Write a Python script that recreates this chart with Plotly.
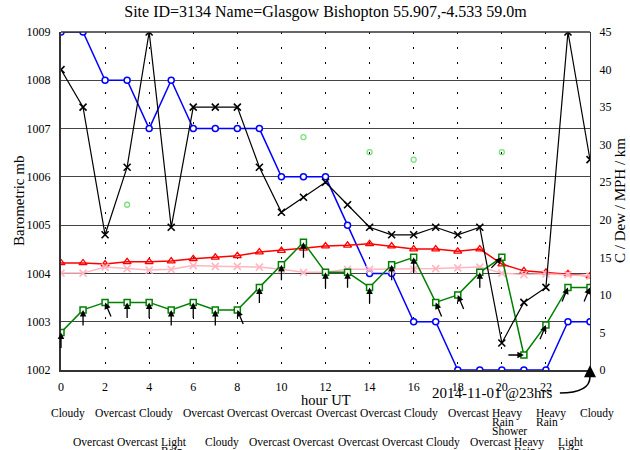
import math
import plotly.graph_objects as go

# ---------------- data ----------------
hours = list(range(25))
x_tick_vals = [0, 2, 4, 6, 8, 10, 12, 14, 16, 18, 20, 22]
x_tick_text = ["0", "2", "4", "6", "8", "10", "12", "14", "16", "18", "20", "22"]

pressure_mb = [1009, 1009, 1008, 1008, 1007, 1008, 1007, 1007, 1007, 1007, 1006, 1006, 1006,
               1005, 1004, 1004, 1003, 1003, 1002, 1002, 1002, 1002, 1002, 1003, 1003]
visibility_km = [40, 35, 18, 27, 45, 19, 35, 35, 35, 27, 21, 23, 25, 22, 19, 18, 18, 19, 18, 19,
                 3.6, 9, 11, 45, 28]
temperature_c = [14.25, 14.25, 14.1, 14.4, 14.4, 14.5, 14.8, 15.0, 15.2, 15.7, 15.9, 16.2, 16.5,
                 16.6, 16.8, 16.5, 16.1, 16.1, 15.8, 16.1, 14.1, 13.2, 13.0, 12.8, 12.5]
dewpoint_c = [12.9, 12.9, 13.7, 13.5, 13.3, 13.4, 13.9, 13.8, 13.8, 13.7, 13.4, 13.0, 13.0,
              13.4, 13.4, 13.4, 13.4, 13.5, 13.6, 13.7, 12.9, 12.7, 12.8, 12.7, 12.5]
wind_mph = [5, 8, 9, 9, 9, 8, 9, 8, 8, 11, 14, 17, 13, 13, 11, 14, 15, 9, 10, 13, 15, 2, 6, 11, 11]
gust_mph = [None, None, None, 22, None, None, None, None, None, None, None, 31, None,
            None, 29, None, 28, None, None, None, 29, None, None, None, None]
wind_from_deg = [180, 180, 157.5, 180, 180, 180, 180, 180, 157.5, 180, 180, 180, 180,
                 180, 180, 180, 180, 157.5, 157.5, 180, 225, 270, 202.5, 202.5, 202.5]
weather = ["Cloudy", "Overcast", "Overcast", "Overcast", "Cloudy", "Light Rain", "Overcast",
           "Cloudy", "Overcast", "Overcast", "Overcast", "Overcast", "Overcast", "Overcast",
           "Overcast", "Overcast", "Cloudy", "Cloudy", "Overcast", "Overcast",
           "Heavy Rain Shower", "Heavy Rain", "Heavy Rain", "Light Rain", "Cloudy"]

title_text = "Site ID=3134 Name=Glasgow Bishopton 55.907,-4.533 59.0m"
date_label = "2014-11-01 @23hrs"

SERIF = "Liberation Serif, Times New Roman, serif"

fig = go.Figure()

fig.add_trace(go.Scatter(
    x=hours, y=pressure_mb, mode="lines+markers", yaxis="y",
    line=dict(color="#0000ff", width=1.5),
    marker=dict(symbol="circle", size=6, color="white", line=dict(color="#0000ff", width=1.5)),
))
fig.add_trace(go.Scatter(
    x=hours, y=temperature_c, mode="lines+markers", yaxis="y2",
    line=dict(color="#ff0000", width=1.5),
    marker=dict(symbol="triangle-up-open", size=7, color="#ff0000", line=dict(width=1.3)),
))
fig.add_trace(go.Scatter(
    x=hours, y=dewpoint_c, mode="lines+markers", yaxis="y2",
    line=dict(color="#ffb6c1", width=1.5),
    marker=dict(symbol="x-thin-open", size=7, color="#ffb6c1", line=dict(width=1.5, color="#ffb6c1")),
))
fig.add_trace(go.Scatter(
    x=hours, y=wind_mph, mode="lines+markers", yaxis="y2",
    line=dict(color="#008000", width=1.5),
    marker=dict(symbol="square", size=6, color="white", line=dict(color="#008000", width=1.5)),
))
fig.add_trace(go.Scatter(
    x=hours, y=gust_mph, mode="markers", yaxis="y2",
    marker=dict(symbol="circle-open", size=5, color="#7be07b", line=dict(width=1.3, color="#7be07b")),
))
fig.add_trace(go.Scatter(
    x=hours, y=visibility_km, mode="lines+markers", yaxis="y2",
    line=dict(color="black", width=1.2),
    marker=dict(symbol="x-thin-open", size=7, color="black", line=dict(width=1.6, color="black")),
))

annotations = []

# wind direction arrows (pointing where the wind goes, ending at the wind-speed marker)
ARROW_LEN = 17
for h, w, d in zip(hours, wind_mph, wind_from_deg):
    to = math.radians((d + 180) % 360)
    annotations.append(dict(
        x=h, y=w, xref="x", yref="y2", text="", showarrow=True,
        ax=-ARROW_LEN * math.sin(to), ay=ARROW_LEN * math.cos(to),
        arrowhead=2, arrowsize=1, arrowwidth=1.3, arrowcolor="black", standoff=0,
    ))

# weather labels, two alternating rows (left edge half an hour before the hour)
for h, wtxt in zip(hours, weather):
    base = 43 if h % 2 == 0 else 72
    for i, word in enumerate(wtxt.split(" ")):
        annotations.append(dict(
            x=h, y=0, xref="x", yref="paper", text=word, showarrow=False,
            xanchor="left", yanchor="middle", xshift=-12, yshift=-(base + 9 * i),
            font=dict(family=SERIF, size=11.5, color="black"),
        ))

# axis labels
annotations.append(dict(x=0.5, y=0, xref="paper", yref="paper", text="hour UT", showarrow=False,
                        xanchor="center", yanchor="middle", yshift=-30,
                        font=dict(family=SERIF, size=14.5, color="black")))
annotations.append(dict(x=0, y=0.5, xref="paper", yref="paper", text="Barometric mb", showarrow=False,
                        textangle=-90, xanchor="center", yanchor="middle", xshift=-42,
                        font=dict(family=SERIF, size=15, color="black")))
annotations.append(dict(x=1, y=0.5, xref="paper", yref="paper", text="C / Dew / MPH / km", showarrow=False,
                        textangle=-90, xanchor="center", yanchor="middle", xshift=30,
                        font=dict(family=SERIF, size=15, color="black")))
annotations.append(dict(x=0.814, y=0, xref="paper", yref="paper", text=date_label, showarrow=False,
                        xanchor="center", yanchor="middle", yshift=-23,
                        font=dict(family=SERIF, size=15, color="black")))
# arrowhead of the curved pointer towards the last hour
annotations.append(dict(x=hours[-1], y=1002.1, xref="x", yref="y", text="", showarrow=True,
                        ax=0, ay=12, arrowhead=2, arrowsize=1.6, arrowwidth=1.5,
                        arrowcolor="black", standoff=0))

shapes = [
    dict(type="line", xref="paper", yref="paper", x0=0, x1=1, y0=1, y1=1,
         line=dict(color="#333", width=1.5)),
    dict(type="path", xref="paper", yref="paper",
         path="M 0.943,-0.068 Q 1.0,-0.068 1.0,-0.02",
         line=dict(color="black", width=1.5)),
]

fig.update_layout(
    width=630, height=450,
    margin=dict(l=61, r=40, t=32, b=80),
    paper_bgcolor="white", plot_bgcolor="white",
    showlegend=False,
    hovermode=False,
    title=dict(text=title_text, x=0.5, xref="paper", xanchor="center",
               y=(450 - 11) / 450, yref="container", yanchor="middle",
               font=dict(family=SERIF, size=16, color="black")),
    xaxis=dict(range=[0, 24], tickvals=x_tick_vals, ticktext=x_tick_text,
               showgrid=True, gridcolor="black", griddash="2px,13px", gridwidth=1,
               zeroline=False, showline=True, linecolor="#333", linewidth=2,
               ticks="", ticklabelstandoff=5,
               tickfont=dict(family=SERIF, size=12, color="black")),
    yaxis=dict(range=[1002, 1009], dtick=1, showgrid=True, gridcolor="#444", gridwidth=1,
               zeroline=False, showline=True, linecolor="#333", linewidth=2,
               ticks="", ticklabelstandoff=6,
               tickfont=dict(family=SERIF, size=12, color="black")),
    yaxis2=dict(range=[0, 45], dtick=5, overlaying="y", side="right", showgrid=False,
                zeroline=False, showline=True, linecolor="#333", linewidth=1,
                ticks="", ticklabelstandoff=6,
                tickfont=dict(family=SERIF, size=12, color="black")),
    annotations=annotations,
    shapes=shapes,
)

fig.write_html("out.html", config={"displayModeBar": False},
               post_script="document.body.style.margin='0';")
